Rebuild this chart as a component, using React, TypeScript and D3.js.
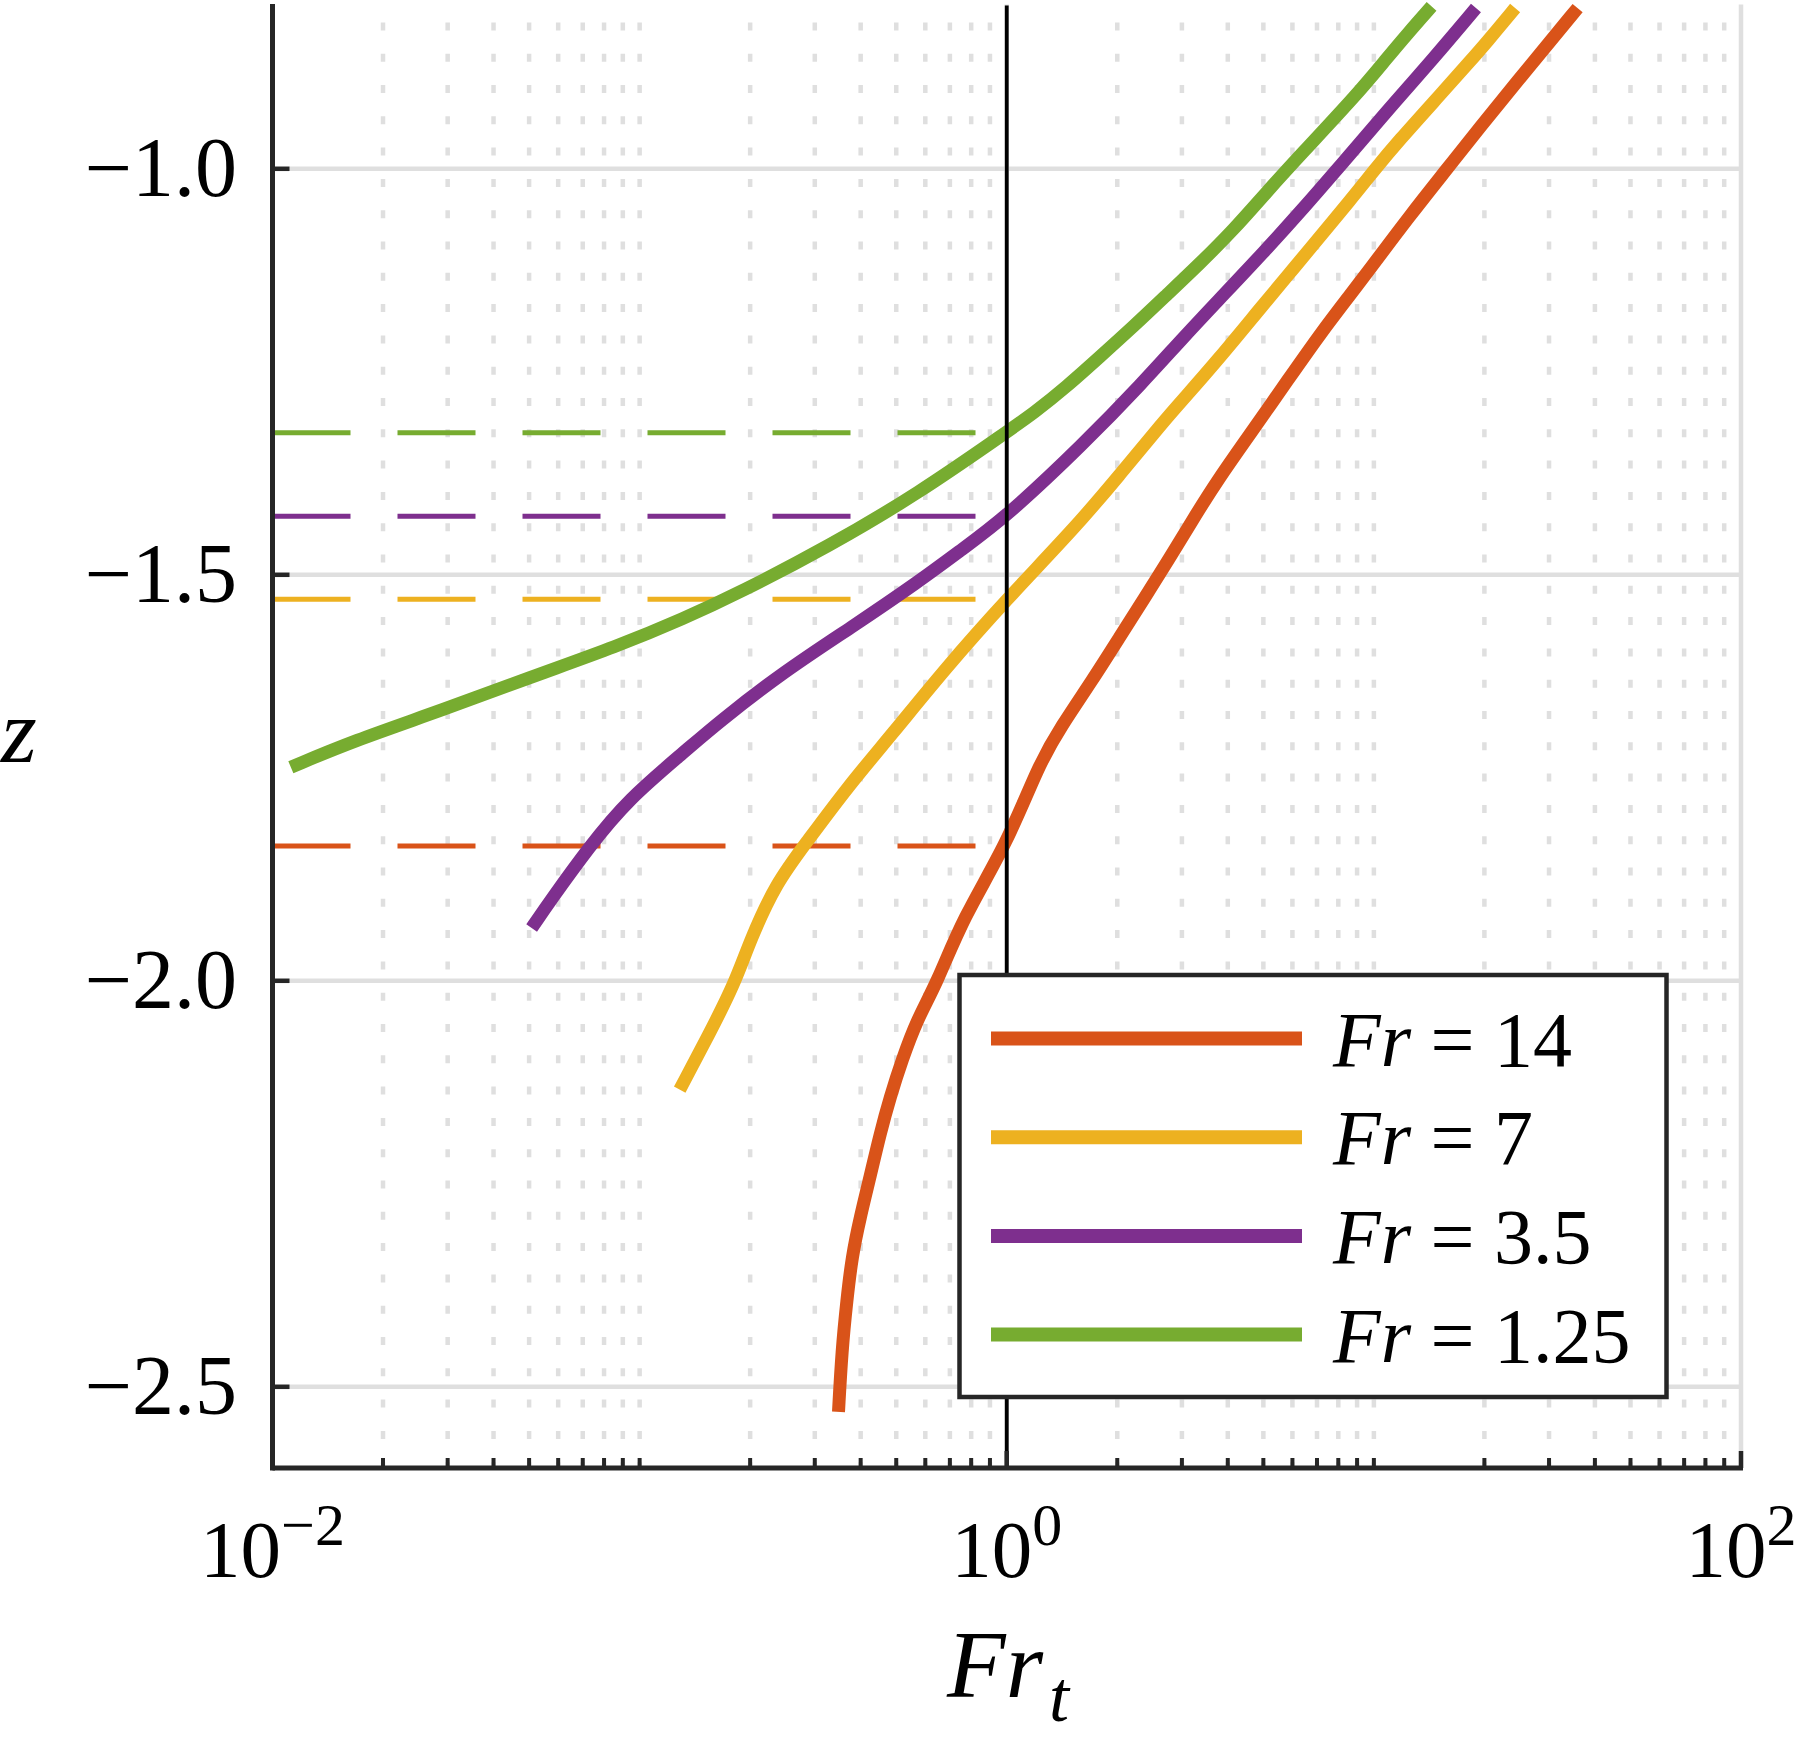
import * as d3 from "d3";

// Fr_t (log axis) and z, bottom end of each curve first
const fr14Frt = [0.3481, 0.3555, 0.3669, 0.3786, 0.3988, 0.4246, 0.4521, 0.4814, 0.5181, 0.5691, 0.6452, 0.7586, 1.0, 1.2214, 1.405, 1.71, 2.022, 2.392, 2.791, 3.21, 3.797, 4.513, 5.895, 7.147, 8.726, 9.616, 12.56, 15.83, 19.11, 26.75, 35.89];
const fr14Z = [-2.531, -2.455, -2.393, -2.34, -2.291, -2.241, -2.188, -2.143, -2.098, -2.048, -2.003, -1.923, -1.832, -1.734, -1.687, -1.63, -1.578, -1.526, -1.478, -1.432, -1.38, -1.332, -1.257, -1.203, -1.152, -1.127, -1.057, -1.0, -0.953, -0.872, -0.802];

const fr7Frt = [0.1286, 0.1549, 0.1817, 0.2, 0.235, 0.2844, 0.3673, 0.4898, 0.6753, 1.0, 1.528, 2.022, 2.676, 3.009, 3.767, 4.983, 5.886, 6.594, 8.726, 10.09, 11.55, 15.28, 18.41, 20.22, 24.25];
const fr7Z = [-2.134, -2.065, -2.003, -1.95, -1.88, -1.83, -1.762, -1.695, -1.617, -1.53, -1.443, -1.378, -1.311, -1.285, -1.235, -1.168, -1.129, -1.102, -1.036, -1.0, -0.968, -0.907, -0.866, -0.845, -0.802];

const fr35Frt = [0.0508, 0.0574, 0.0729, 0.0928, 0.134, 0.1626, 0.2474, 0.3767, 0.5733, 0.7586, 1.0, 1.625, 2.339, 3.009, 3.767, 4.983, 6.594, 7.962, 8.726, 11.55, 14.41, 18.97];
const fr35Z = [-1.935, -1.9, -1.835, -1.777, -1.716, -1.683, -1.619, -1.565, -1.509, -1.468, -1.428, -1.338, -1.264, -1.209, -1.162, -1.104, -1.043, -1.0, -0.979, -0.915, -0.866, -0.802];

const fr125Frt = [0.01122, 0.01648, 0.02931, 0.05047, 0.0871, 0.1318, 0.1871, 0.3273, 0.5734, 1.0, 1.1834, 1.4585, 1.798, 2.216, 2.731, 3.368, 4.15, 5.117, 6.305, 9.092, 10.75, 12.38, 14.36];
const fr125Z = [-1.737, -1.705, -1.666, -1.626, -1.588, -1.554, -1.522, -1.465, -1.4, -1.324, -1.301, -1.268, -1.231, -1.194, -1.155, -1.116, -1.075, -1.028, -0.983, -0.906, -0.866, -0.833, -0.8];

const seriesLabels = ["14", "7", "3.5", "1.25"];
const seriesColors = ["#D95319", "#EDB120", "#7E2F8E", "#77AC30"];
const seriesFrt = [fr14Frt, fr7Frt, fr35Frt, fr125Frt];
const seriesZ = [fr14Z, fr7Z, fr35Z, fr125Z];

// z where each curve meets Fr_t = 1, drawn as dashed guides
const crossingZ = [-1.834, -1.53, -1.428, -1.325];
const guideEnd = 0.823;

const zTicks = [-2.5, -2.0, -1.5, -1.0];
const frtMajor = [1e-2, 1e0, 1e2];
const frtExponents = ["\u22122", "0", "2"];

export default function App() {
  const width = 1800;
  const height = 1751;
  const left = 272.5;
  const right = 1741;
  const top = 6.4;
  const bottom = 1468;

  const x = d3.scaleLog().domain([1e-2, 1e2]).range([left, right]);
  const y = d3.scaleLinear().domain([-2.6, -0.8]).range([bottom, top]);
  const minor = x.ticks().filter((t) => !frtMajor.some((m) => Math.abs(m - t) / m < 1e-9));
  const fmt = d3.format(".1f");

  const line = d3
    .line<[number, number]>()
    .x((d) => x(d[0]))
    .y((d) => y(d[1]))
    .curve(d3.curveBasis);

  const axisColor = "#262626";
  const gridColor = "#dfdfdf";
  const font = "'Liberation Serif', 'Times New Roman', serif";

  const legend = { x: 959.5, y: 975, w: 707, h: 422, row: 98.7 };

  return (
    <svg
      width={width}
      height={height}
      viewBox={`0 0 ${width} ${height}`}
      style={{ position: "absolute", left: 0, top: 0, background: "#fff" }}
      fontFamily={font}
    >
      {/* grid */}
      {minor.map((t) => (
        <line key={`m${t}`} x1={x(t)} x2={x(t)} y1={top - 2} y2={bottom} stroke={gridColor} strokeWidth={4.5} strokeDasharray="8 23.3" strokeDashoffset={13.3} />
      ))}
      {frtMajor.map((t) => (
        <line key={`M${t}`} x1={x(t)} x2={x(t)} y1={top - 2} y2={bottom} stroke={gridColor} strokeWidth={4.5} />
      ))}
      {zTicks.map((t) => (
        <line key={`z${t}`} x1={left} x2={right} y1={y(t)} y2={y(t)} stroke={gridColor} strokeWidth={4.5} />
      ))}

      {/* dashed guides */}
      {crossingZ.map((z, i) => (
        <line key={`g${i}`} x1={x(1e-2)} x2={x(guideEnd)} y1={y(z)} y2={y(z)} stroke={seriesColors[i]} strokeWidth={5} strokeDasharray="78 47" />
      ))}

      {/* curves */}
      {seriesFrt.map((frt, i) => (
        <path
          key={`c${i}`}
          d={line(frt.map((v, j) => [v, seriesZ[i][j]] as [number, number])) ?? ""}
          fill="none"
          stroke={seriesColors[i]}
          strokeWidth={13}
          strokeLinejoin="round"
        />
      ))}

      {/* Fr_t = 1 */}
      <line x1={x(1)} x2={x(1)} y1={top - 1} y2={bottom} stroke="#000" strokeWidth={3.8} />

      {/* axes */}
      <line x1={left} x2={left} y1={top - 2.5} y2={bottom + 2.5} stroke={axisColor} strokeWidth={5} />
      <line x1={left} x2={right + 2} y1={bottom} y2={bottom} stroke={axisColor} strokeWidth={5} />
      {zTicks.map((t) => (
        <g key={`zt${t}`}>
          <line x1={left} x2={left + 17} y1={y(t)} y2={y(t)} stroke={axisColor} strokeWidth={4.5} />
          <text x={237} y={y(t) + 27} textAnchor="end" fontSize={84} fill="#000">
            {fmt(t)}
          </text>
        </g>
      ))}
      {minor.map((t) => (
        <line key={`mt${t}`} x1={x(t)} x2={x(t)} y1={bottom} y2={bottom - 10} stroke={axisColor} strokeWidth={4} />
      ))}
      {frtMajor.map((t, i) => (
        <g key={`xt${t}`}>
          <line x1={x(t)} x2={x(t)} y1={bottom} y2={bottom - 17} stroke={axisColor} strokeWidth={4.5} />
          <text x={x(t)} y={1577} textAnchor="middle" fontSize={81} fill="#000">
            10
            <tspan fontSize={60} dy={-32}>
              {frtExponents[i]}
            </tspan>
          </text>
        </g>
      ))}

      {/* axis labels */}
      <text x={1008} y={1697} textAnchor="middle" fontSize={96} fontStyle="italic" fill="#000">
        Fr
        <tspan fontSize={72} dx={6} dy={24}>
          t
        </tspan>
      </text>
      <text x={1} y={762} fontSize={92} fontStyle="italic" fill="#000">
        z
      </text>

      {/* legend */}
      <rect x={legend.x} y={legend.y} width={legend.w} height={legend.h} fill="#fff" stroke={axisColor} strokeWidth={4.5} />
      {seriesLabels.map((lab, i) => {
        const ly = 1038.5 + i * legend.row;
        return (
          <g key={`l${lab}`}>
            <line x1={991} x2={1302} y1={ly} y2={ly} stroke={seriesColors[i]} strokeWidth={14} />
            <text x={1333} y={ly + 27} fontSize={78} fill="#000">
              <tspan fontStyle="italic">Fr</tspan> = {lab}
            </text>
          </g>
        );
      })}
    </svg>
  );
}
